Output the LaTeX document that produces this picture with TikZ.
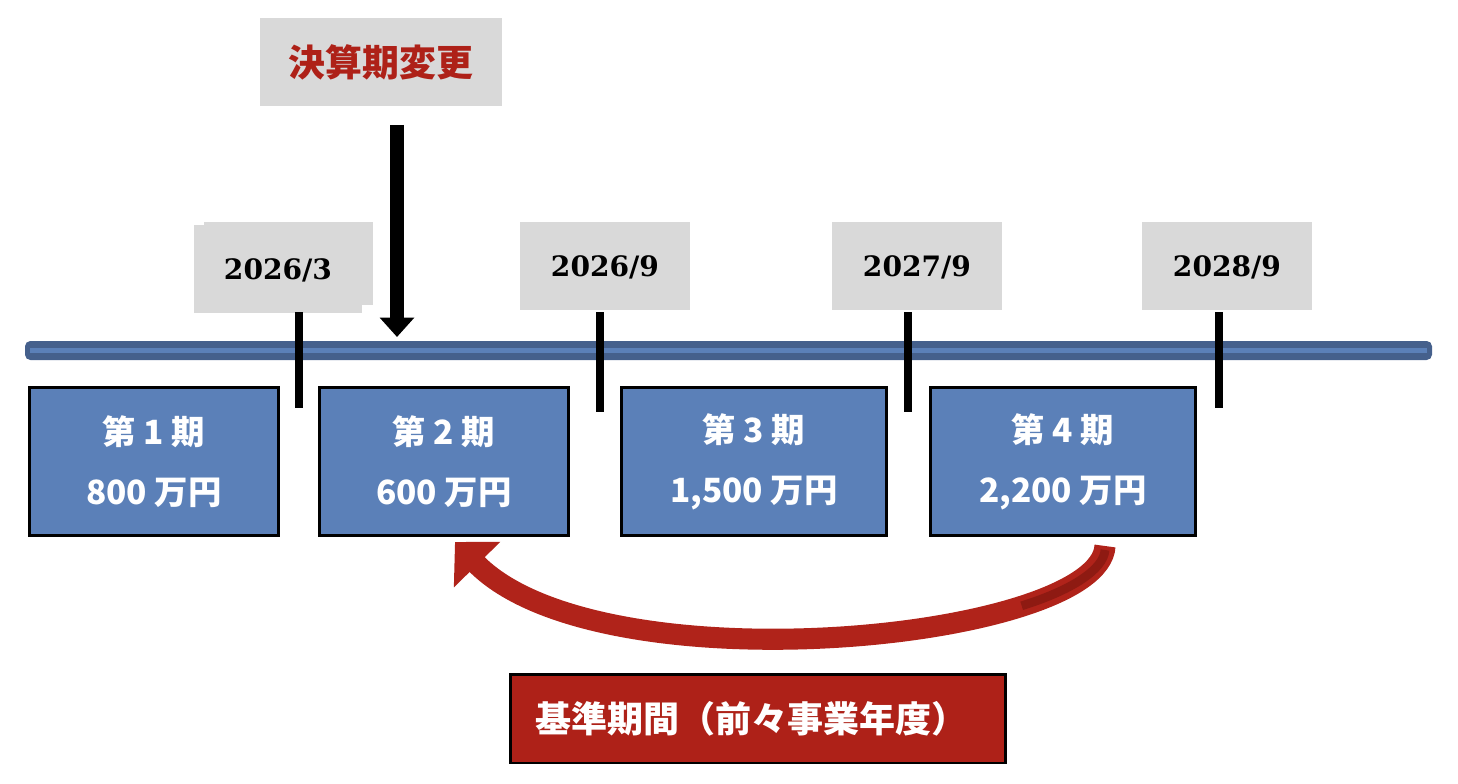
\documentclass[tikz,border=0pt]{standalone}
\usepackage{fontspec}
\newfontfamily\jpfont{Noto Sans CJK JP}
\newfontfamily\datefont{DejaVu Serif}
\usetikzlibrary{arrows.meta, positioning}

\definecolor{boxgray}{HTML}{D9D9D9}
\definecolor{periodblue}{HTML}{5B80B8}
\definecolor{bardark}{HTML}{45608C}
\definecolor{barlight}{HTML}{5B80B8}
\definecolor{basered}{HTML}{AE2118}
\definecolor{arrowred}{HTML}{B0231A}
\definecolor{arrowdark}{HTML}{8E1A12}

\begin{document}
\begin{tikzpicture}[
    x=0.02cm, y=-0.02cm,
    datebox/.style={rectangle, fill=boxgray, minimum width=3.4cm, minimum height=1.76cm, text depth=-0.1cm, font=\datefont\bfseries\fontsize{16}{18}\selectfont},
    period/.style={rectangle, draw=black, line width=1.7pt, fill=periodblue, text=white, minimum width=4.98cm, minimum height=2.98cm, align=center, font=\jpfont\bfseries\fontsize{19}{34}\selectfont},
    topbox/.style={rectangle, fill=boxgray, text=basered, minimum width=4.86cm, minimum height=1.76cm, font=\jpfont\bfseries\fontsize{21}{22}\selectfont},
    basebox/.style={rectangle, draw=black, line width=1.7pt, fill=basered, text=white, text width=8.9cm, inner xsep=0.51cm, minimum height=1.78cm, align=left, font=\jpfont\bfseries\fontsize{20.5}{22}\selectfont},
    tick/.style={line width=4pt, black}
]
\useasboundingbox (0,0) rectangle (1458,784);

% Change of fiscal year
\node[topbox] (change) at (381,62) {決算期変更};
\coordinate (chgtop) at (397,125);
\coordinate (chgbot) at (397,337);

% Dates
\fill[boxgray] (204,222) rectangle (373,305);
\node[datebox, minimum width=3.36cm, minimum height=1.78cm] (d1) at (278,269) {2026/3};
\node[datebox] (d2) at (605,266) {2026/9};
\node[datebox] (d3) at (917,266) {2027/9};
\node[datebox] (d4) at (1227,266) {2028/9};

% Time line
\fill[bardark, rounded corners=3pt] (25,341) rectangle (1432,360);
\fill[barlight] (30,348) rectangle (1427,353);
\draw[tick] (299,312) -- (299,408);
\draw[tick] (600,312) -- (600,412);
\draw[tick] (908,312) -- (908,412);
\draw[tick] (1219,312) -- (1219,408);

% Periods
\node[period] (p1) at (154,461.5) {第 1 期\\800 万円};
\node[period, right=0.76cm of p1] (p2) {第 2 期\\600 万円};
\node[period, right=1.0cm of p2, minimum width=5.3cm] (p3) {第 3 期\\1,500 万円};
\node[period, right=0.82cm of p3, minimum width=5.3cm] (p4) {第 4 期\\2,200 万円};

% Base period
\node[basebox] (base) at (758,718.5) {基準期間（前々事業年度）};
\coordinate (bs) at (1105,546);
\coordinate (be) at (455,542);

% Connections
\draw[line width=8pt, -{Triangle[width=19pt, length=11pt]}] (chgtop) -- (chgbot);
\draw[line width=12pt, arrowred, -{Triangle[width=36pt, length=18pt]}] (bs) .. controls (1100,640) and (600,690) .. (be);
\draw[line width=5pt, arrowdark] (1105,550) .. controls (1103.75,569.5) and (1071.56,590.25) .. (1021.7,605.8);

\end{tikzpicture}
\end{document}
